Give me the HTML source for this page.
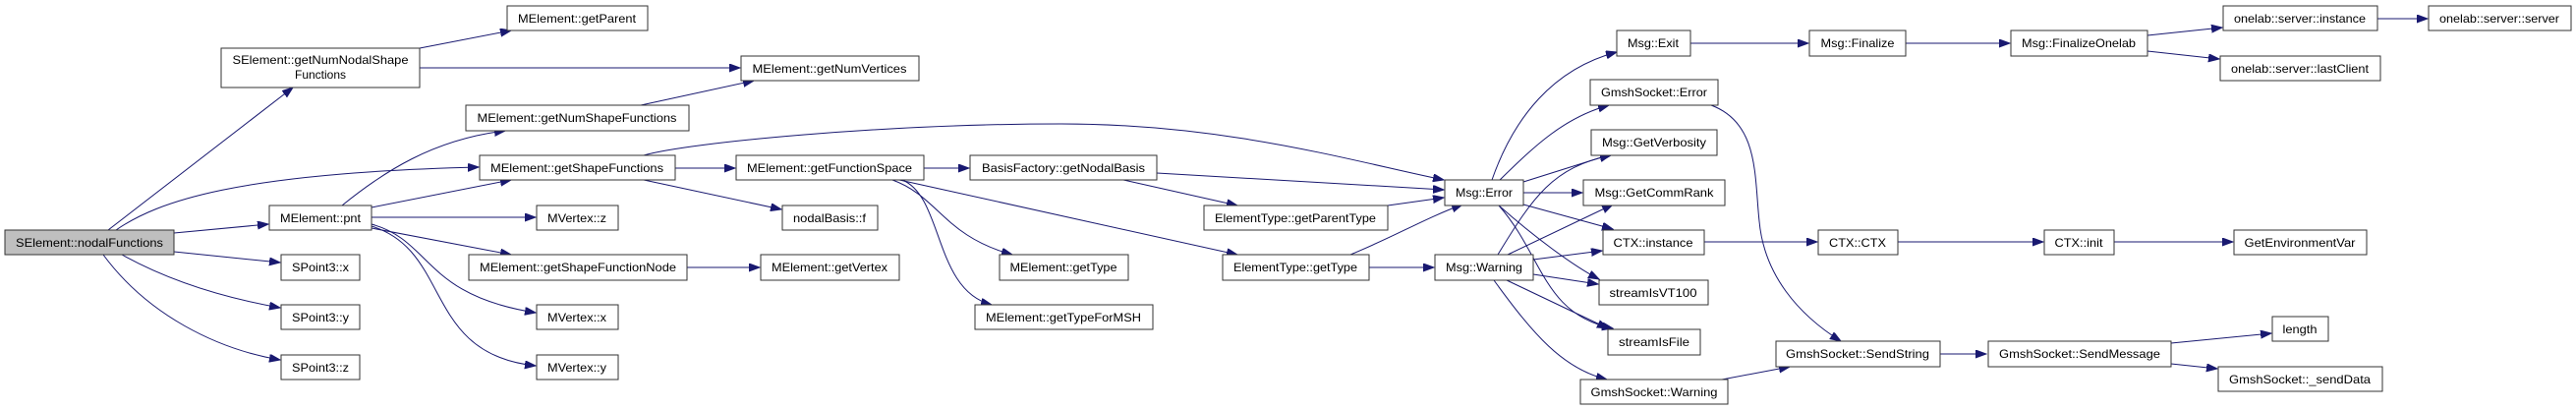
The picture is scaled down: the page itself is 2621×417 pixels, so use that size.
<!DOCTYPE html>
<html><head><meta charset="utf-8"><style>
html,body{margin:0;padding:0;background:#fff;}
svg{display:block;}
text{font-family:"Liberation Sans",Helvetica,sans-serif;font-size:12px;fill:#000;}
.b{fill:#fff;stroke:#333;stroke-width:1;}
.e{fill:none;stroke:#191970;stroke-width:1;marker-end:url(#a);}
</style></head><body>
<svg width="2621" height="417" viewBox="0 0 2621 417" xmlns="http://www.w3.org/2000/svg">
<defs><marker id="a" markerUnits="userSpaceOnUse" markerWidth="12" markerHeight="10" refX="11" refY="4" orient="auto"><path d="M0,0 L11,4 L0,8 z" fill="#191970" stroke="#191970"/></marker></defs>

<!-- edges -->
<path class="e" d="M110,234 L298,89"/>
<path class="e" d="M118,234 C160,205 240,176 487,170"/>
<path class="e" d="M177,237 L273,228"/>
<path class="e" d="M177,256 L285,267"/>
<path class="e" d="M124,259 C180,290 240,305 285,313"/>
<path class="e" d="M105,259 C150,320 220,355 285,366"/>
<path class="e" d="M427,49 L520,31"/>
<path class="e" d="M427,69 L753,69"/>
<path class="e" d="M652,107 L767,82"/>
<path class="e" d="M348,209 C390,175 440,142 514,133"/>
<path class="e" d="M378,211 L520,183"/>
<path class="e" d="M378,221 L545,221"/>
<path class="e" d="M378,232 L520,259"/>
<path class="e" d="M378,228 C440,245 430,300 545,318"/>
<path class="e" d="M378,230 C460,255 430,360 545,372"/>
<path class="e" d="M655,158 C700,145 900,126 1080,126 C1250,126 1380,165 1469,183"/>
<path class="e" d="M687,171 L748,171"/>
<path class="e" d="M655,183 L795,213"/>
<path class="e" d="M699,272 L773,272"/>
<path class="e" d="M940,171 L986,171"/>
<path class="e" d="M908,183 C955,200 960,240 1030,259"/>
<path class="e" d="M918,183 C960,200 950,295 1009,310"/>
<path class="e" d="M915,183 L1259,259"/>
<path class="e" d="M1177,176 L1469,193"/>
<path class="e" d="M1143,183 L1259,209"/>
<path class="e" d="M1412,209 L1469,201"/>
<path class="e" d="M1374,259 C1420,240 1450,222 1488,208"/>
<path class="e" d="M1393,272 L1459,272"/>
<path class="e" d="M1518,183 C1540,120 1580,70 1645,53"/>
<path class="e" d="M1526,183 C1560,150 1590,120 1637,107"/>
<path class="e" d="M1550,185 L1639,157"/>
<path class="e" d="M1550,196 L1610,196"/>
<path class="e" d="M1550,208 L1641,233"/>
<path class="e" d="M1525,209 C1560,240 1600,270 1627,284"/>
<path class="e" d="M1525,209 C1570,260 1570,320 1641,334"/>
<path class="e" d="M1524,259 C1560,200 1580,170 1639,158"/>
<path class="e" d="M1534,259 L1641,208"/>
<path class="e" d="M1560,264 L1630,255"/>
<path class="e" d="M1560,279 L1626,289"/>
<path class="e" d="M1533,285 L1636,334"/>
<path class="e" d="M1520,285 C1560,340 1590,375 1635,386"/>
<path class="e" d="M1741,107 C1790,125 1785,180 1790,225 C1795,280 1830,320 1873,347"/>
<path class="e" d="M1752,386 L1821,373"/>
<path class="e" d="M1974,360 L2021,360"/>
<path class="e" d="M1734,246 L1849,246"/>
<path class="e" d="M1931,246 L2079,246"/>
<path class="e" d="M2151,246 L2272,246"/>
<path class="e" d="M1720,44 L1840,44"/>
<path class="e" d="M1939,44 L2045,44"/>
<path class="e" d="M2185,36 L2261,28"/>
<path class="e" d="M2185,52 L2258,60"/>
<path class="e" d="M2419,19 L2470,19"/>
<path class="e" d="M2209,349 L2311,339"/>
<path class="e" d="M2209,370 L2256,375"/>

<!-- nodes -->
<g>
<rect x="5" y="234" width="172" height="25" fill="#bfbfbf" stroke="#333"/><text x="91" y="251" text-anchor="middle" textLength="150" lengthAdjust="spacingAndGlyphs">SElement::nodalFunctions</text>
<rect class="b" x="225" y="49" width="202" height="40"/><text x="326" y="65" text-anchor="middle" textLength="179" lengthAdjust="spacingAndGlyphs">SElement::getNumNodalShape</text><text x="326" y="80" text-anchor="middle">Functions</text>
<rect class="b" x="516" y="6" width="143" height="25"/><text x="587" y="23" text-anchor="middle" textLength="120" lengthAdjust="spacingAndGlyphs">MElement::getParent</text>
<rect class="b" x="474" y="107" width="227" height="26"/><text x="587" y="124" text-anchor="middle" textLength="203" lengthAdjust="spacingAndGlyphs">MElement::getNumShapeFunctions</text>
<rect class="b" x="488" y="158" width="199" height="25"/><text x="587" y="175" text-anchor="middle" textLength="176" lengthAdjust="spacingAndGlyphs">MElement::getShapeFunctions</text>
<rect class="b" x="274" y="209" width="104" height="25"/><text x="326" y="226" text-anchor="middle" textLength="82" lengthAdjust="spacingAndGlyphs">MElement::pnt</text>
<rect class="b" x="546" y="209" width="83" height="25"/><text x="587" y="226" text-anchor="middle" textLength="60" lengthAdjust="spacingAndGlyphs">MVertex::z</text>
<rect class="b" x="477" y="259" width="222" height="26"/><text x="588" y="276" text-anchor="middle" textLength="200" lengthAdjust="spacingAndGlyphs">MElement::getShapeFunctionNode</text>
<rect class="b" x="286" y="259" width="80" height="26"/><text x="326" y="276" text-anchor="middle" textLength="58" lengthAdjust="spacingAndGlyphs">SPoint3::x</text>
<rect class="b" x="286" y="310" width="80" height="25"/><text x="326" y="327" text-anchor="middle" textLength="58" lengthAdjust="spacingAndGlyphs">SPoint3::y</text>
<rect class="b" x="286" y="361" width="80" height="25"/><text x="326" y="378" text-anchor="middle" textLength="58" lengthAdjust="spacingAndGlyphs">SPoint3::z</text>
<rect class="b" x="546" y="310" width="83" height="25"/><text x="587" y="327" text-anchor="middle" textLength="60" lengthAdjust="spacingAndGlyphs">MVertex::x</text>
<rect class="b" x="546" y="361" width="83" height="25"/><text x="587" y="378" text-anchor="middle" textLength="60" lengthAdjust="spacingAndGlyphs">MVertex::y</text>

<rect class="b" x="754" y="57" width="181" height="25"/><text x="844" y="74" text-anchor="middle" textLength="157" lengthAdjust="spacingAndGlyphs">MElement::getNumVertices</text>
<rect class="b" x="749" y="158" width="191" height="25"/><text x="844" y="175" text-anchor="middle" textLength="168" lengthAdjust="spacingAndGlyphs">MElement::getFunctionSpace</text>
<rect class="b" x="987" y="158" width="190" height="25"/><text x="1082" y="175" text-anchor="middle" textLength="166" lengthAdjust="spacingAndGlyphs">BasisFactory::getNodalBasis</text>
<rect class="b" x="796" y="209" width="97" height="25"/><text x="844" y="226" text-anchor="middle" textLength="74" lengthAdjust="spacingAndGlyphs">nodalBasis::f</text>
<rect class="b" x="774" y="259" width="141" height="26"/><text x="844" y="276" text-anchor="middle" textLength="118" lengthAdjust="spacingAndGlyphs">MElement::getVertex</text>
<rect class="b" x="1017" y="259" width="131" height="26"/><text x="1082" y="276" text-anchor="middle" textLength="109" lengthAdjust="spacingAndGlyphs">MElement::getType</text>
<rect class="b" x="992" y="310" width="181" height="25"/><text x="1082" y="327" text-anchor="middle" textLength="158" lengthAdjust="spacingAndGlyphs">MElement::getTypeForMSH</text>
<rect class="b" x="1225" y="209" width="187" height="25"/><text x="1318" y="226" text-anchor="middle" textLength="164" lengthAdjust="spacingAndGlyphs">ElementType::getParentType</text>
<rect class="b" x="1244" y="259" width="149" height="26"/><text x="1318" y="276" text-anchor="middle" textLength="126" lengthAdjust="spacingAndGlyphs">ElementType::getType</text>

<rect class="b" x="1645" y="31" width="75" height="26"/><text x="1682" y="48" text-anchor="middle" textLength="52" lengthAdjust="spacingAndGlyphs">Msg::Exit</text>
<rect class="b" x="1841" y="31" width="98" height="26"/><text x="1890" y="48" text-anchor="middle" textLength="75" lengthAdjust="spacingAndGlyphs">Msg::Finalize</text>
<rect class="b" x="1618" y="81" width="130" height="26"/><text x="1683" y="98" text-anchor="middle" textLength="108" lengthAdjust="spacingAndGlyphs">GmshSocket::Error</text>
<rect class="b" x="1619" y="132" width="128" height="26"/><text x="1683" y="149" text-anchor="middle" textLength="106" lengthAdjust="spacingAndGlyphs">Msg::GetVerbosity</text>
<rect class="b" x="1611" y="183" width="144" height="26"/><text x="1683" y="200" text-anchor="middle" textLength="121" lengthAdjust="spacingAndGlyphs">Msg::GetCommRank</text>
<rect class="b" x="1470" y="183" width="80" height="26"/><text x="1510" y="200" text-anchor="middle" textLength="58" lengthAdjust="spacingAndGlyphs">Msg::Error</text>
<rect class="b" x="1631" y="234" width="103" height="25"/><text x="1682" y="251" text-anchor="middle" textLength="81" lengthAdjust="spacingAndGlyphs">CTX::instance</text>
<rect class="b" x="1850" y="234" width="81" height="25"/><text x="1890" y="251" text-anchor="middle" textLength="58" lengthAdjust="spacingAndGlyphs">CTX::CTX</text>
<rect class="b" x="1460" y="259" width="100" height="26"/><text x="1510" y="276" text-anchor="middle" textLength="78" lengthAdjust="spacingAndGlyphs">Msg::Warning</text>
<rect class="b" x="1627" y="285" width="111" height="25"/><text x="1682" y="302" text-anchor="middle" textLength="89" lengthAdjust="spacingAndGlyphs">streamIsVT100</text>
<rect class="b" x="1636" y="335" width="94" height="26"/><text x="1683" y="352" text-anchor="middle" textLength="72" lengthAdjust="spacingAndGlyphs">streamIsFile</text>
<rect class="b" x="1807" y="347" width="167" height="26"/><text x="1890" y="364" text-anchor="middle" textLength="146" lengthAdjust="spacingAndGlyphs">GmshSocket::SendString</text>
<rect class="b" x="1608" y="386" width="150" height="25"/><text x="1683" y="403" text-anchor="middle" textLength="129" lengthAdjust="spacingAndGlyphs">GmshSocket::Warning</text>

<rect class="b" x="2046" y="31" width="139" height="26"/><text x="2115" y="48" text-anchor="middle" textLength="116" lengthAdjust="spacingAndGlyphs">Msg::FinalizeOnelab</text>
<rect class="b" x="2262" y="6" width="157" height="25"/><text x="2340" y="23" text-anchor="middle" textLength="134" lengthAdjust="spacingAndGlyphs">onelab::server::instance</text>
<rect class="b" x="2471" y="6" width="145" height="25"/><text x="2543" y="23" text-anchor="middle" textLength="122" lengthAdjust="spacingAndGlyphs">onelab::server::server</text>
<rect class="b" x="2259" y="57" width="163" height="25"/><text x="2340" y="74" text-anchor="middle" textLength="140" lengthAdjust="spacingAndGlyphs">onelab::server::lastClient</text>
<rect class="b" x="2080" y="234" width="71" height="25"/><text x="2115" y="251" text-anchor="middle" textLength="49" lengthAdjust="spacingAndGlyphs">CTX::init</text>
<rect class="b" x="2273" y="234" width="135" height="25"/><text x="2340" y="251" text-anchor="middle" textLength="113" lengthAdjust="spacingAndGlyphs">GetEnvironmentVar</text>
<rect class="b" x="2312" y="322" width="57" height="25"/><text x="2340" y="339" text-anchor="middle" textLength="35" lengthAdjust="spacingAndGlyphs">length</text>
<rect class="b" x="2023" y="347" width="186" height="26"/><text x="2116" y="364" text-anchor="middle" textLength="164" lengthAdjust="spacingAndGlyphs">GmshSocket::SendMessage</text>
<rect class="b" x="2257" y="373" width="167" height="25"/><text x="2340" y="390" text-anchor="middle" textLength="144" lengthAdjust="spacingAndGlyphs">GmshSocket::_sendData</text>
</g>
</svg>
</body></html>
